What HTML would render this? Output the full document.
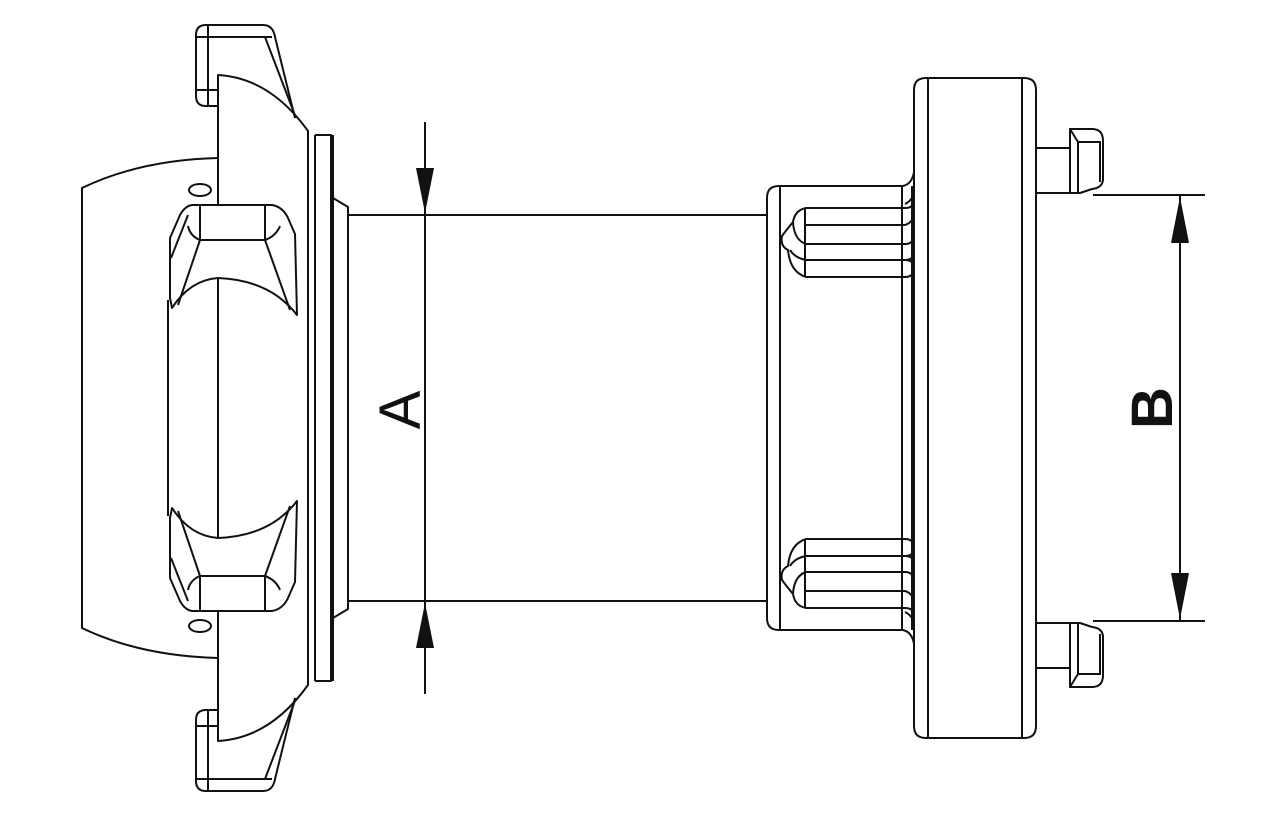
<!DOCTYPE html>
<html><head><meta charset="utf-8"><style>
html,body{margin:0;padding:0;background:#fff;}
svg{display:block;}
</style></head><body>
<svg width="1280" height="840" viewBox="0 0 1280 840" xmlns="http://www.w3.org/2000/svg">
<defs>
<g id="half" fill="none" stroke="#111" stroke-width="2" stroke-linejoin="round">
  <path d="M218,106 L206,106 Q196,106 196,96 L196,35 Q196,25 206,25 L263,25 Q273,25 275,37 L295,118"/>
  <line x1="208" y1="26" x2="208" y2="105"/>
  <line x1="197" y1="37" x2="272" y2="37"/>
  <line x1="197" y1="90" x2="218" y2="90"/>
  <line x1="265" y1="37" x2="296" y2="118"/>
  <path d="M218,408 L218,278"/>
  <path d="M218,205 L218,75 Q270,78 308,131 L308,408"/>
  <line x1="315" y1="135" x2="315" y2="408"/>
  <path d="M315,135 L331,135 L331,408"/>
  <line x1="333" y1="135" x2="333" y2="408"/>
  <path d="M333,198 L348,207 L348,408"/>
  <path d="M82,408 L82,188 Q140,160 218,158"/>
  <line x1="168" y1="300" x2="168" y2="408"/>
  <ellipse cx="200" cy="190" rx="11" ry="6"/>
  <path d="M192,205 L272,205 Q283,207 288,218 L295,234 L297,315 Q270,280 218,278 Q190,280 172,308 L170,298 L170,238 L180,215 Q185,206 192,205 Z"/>
  <path d="M200,206 L200,240 L265,240 L265,206"/>
  <path d="M200,240 Q190,236 188,226 M265,240 Q276,236 280,226"/>
  <line x1="200" y1="240" x2="178" y2="305"/>
  <line x1="265" y1="240" x2="290" y2="310"/>
  <line x1="188" y1="215" x2="171" y2="258"/>
  <line x1="348" y1="215" x2="767" y2="215"/>
  <path d="M767,408 L767,198 Q767,186 779,186 L903,186 Q912,184 914,172"/>
  <line x1="780" y1="187" x2="780" y2="408"/>
  <line x1="902" y1="187" x2="902" y2="408"/>
  <line x1="912" y1="186" x2="912" y2="408"/>
  <path d="M905,204 Q913,200 913,193"/>
  <path d="M806,208 L905,208 Q914,208 914,200"/>
  <path d="M806,225 L905,225 Q914,222 914,212"/>
  <path d="M806,244 L905,244 Q914,244 914,234"/>
  <path d="M806,260 L905,260 Q914,260 914,252"/>
  <path d="M806,277 L905,277 Q914,277 914,268 Q914,260 905,260"/>
  <path d="M805,208 L805,277"/>
  <path d="M806,208 Q795,210 793,222 Q788,228 782,236 Q780,246 788,250 Q790,272 806,277"/>
  <path d="M793,222 Q794,240 806,244"/>
  <path d="M790,250 Q795,258 806,260"/>
  <path d="M914,408 L914,90 Q914,78 926,78 L1024,78 Q1036,78 1036,90 L1036,408"/>
  <line x1="928" y1="79" x2="928" y2="408"/>
  <line x1="1022" y1="79" x2="1022" y2="408"/>
  <path d="M1036,148 L1070,148 L1070,193 L1036,193"/>
  <path d="M1070,129 L1092,129 Q1103,129 1103,141 L1103,180 Q1102,188 1092,189 L1080,193 L1070,193 Z"/>
  <line x1="1100" y1="141" x2="1100" y2="182"/>
  <line x1="1070" y1="129" x2="1078" y2="142"/>
  <line x1="1078" y1="142" x2="1078" y2="192"/>
  <line x1="1078" y1="142" x2="1100" y2="142"/>
  <line x1="1093" y1="195" x2="1205" y2="195"/>
  <line x1="1180" y1="195" x2="1180" y2="408"/>
  <line x1="425" y1="122" x2="425" y2="408"/>
</g>
</defs>
<rect width="1280" height="840" fill="#fff"/>
<use href="#half"/>
<use href="#half" transform="translate(0,816) scale(1,-1)"/>
<polygon points="416,168 434,168 425,213" fill="#111"/>
<polygon points="416,648 434,648 425,603" fill="#111"/>
<polygon points="1171,243 1189,243 1180,197" fill="#111"/>
<polygon points="1171,573 1189,573 1180,619" fill="#111"/>
<text x="0" y="0" transform="translate(420,410) rotate(-90)" text-anchor="middle" font-family="Liberation Sans, sans-serif" font-size="58" fill="#111">A</text>
<text x="0" y="0" transform="translate(1172,408) rotate(-90)" text-anchor="middle" font-family="Liberation Sans, sans-serif" font-size="58" font-weight="bold" fill="#111">B</text>
</svg>
</body></html>
